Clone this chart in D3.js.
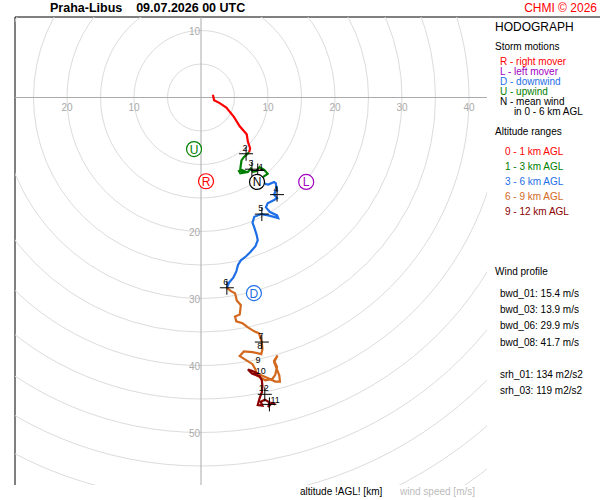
<!DOCTYPE html><html><head><meta charset="utf-8">
<script src="https://cdn.jsdelivr.net/npm/d3@7"></script>
<style>body{margin:0;background:#fff}svg text{font-family:"Liberation Sans",Arial,sans-serif}</style></head><body>
<svg id="c" width="600" height="500"></svg>
<script>
// wind components in m/s: u east(+), v north(+)
const seg01=[[1.78,0.4],[1.95,-0.4],[2.73,-0.8],[3.78,-1.5],[4.91,-2.9],[5.78,-4.3],[6.82,-5.5],[7.0,-6.6],[7.34,-7.6],[7.17,-8.2]];
const seg13=[[7.17,-8.2],[6.39,-8.9],[6.04,-9.4],[5.86,-10.7],[6.30,-10.9],[5.69,-11.0],[5.86,-11.3],[7.0,-11.1],[7.43,-10.6],[7.78,-11.1],[8.21,-11.0],[8.74,-10.4],[9.43,-10.8],[9.95,-11.4],[9.08,-12.0],[9.52,-12.9]];
const seg36=[[9.52,-12.9],[10.04,-13.0],[10.91,-12.6],[11.17,-12.8],[11.26,-13.6],[10.91,-14.5],[11.35,-15.0],[10.91,-15.3],[9.95,-15.8],[9.69,-16.4],[10.3,-17.1],[11.35,-17.6],[11.52,-18.0],[10.04,-17.6],[8.99,-17.4],[7.95,-17.8],[7.69,-18.7],[7.95,-19.4],[8.3,-20.5],[8.47,-21.3],[8.13,-22.2],[7.34,-23.1],[6.73,-23.7],[5.95,-24.3],[5.52,-25.0],[5.26,-26.0],[4.82,-26.9],[4.21,-27.6],[3.86,-28.4]];
const seg69=[[3.86,-28.4],[4.47,-28.9],[5.08,-29.2],[5.34,-30.3],[5.95,-31.0],[5.78,-32.4],[5.08,-32.7],[5.26,-33.4],[6.21,-33.7],[7.0,-34.3],[7.95,-34.9],[8.65,-35.2],[9.08,-36.5],[9.17,-37.6],[8.99,-38.3],[7.69,-38.0],[6.39,-37.9],[5.78,-38.6],[6.73,-39.2],[7.69,-39.8],[8.13,-40.6],[8.3,-41.5],[9.08,-41.9],[9.61,-42.2],[10.65,-42.0],[11.08,-41.4],[11.35,-40.2],[10.91,-39.3],[11.43,-38.5],[10.91,-39.5],[11.69,-41.5],[11.78,-42.4],[11.08,-42.4],[10.04,-41.9],[9.08,-41.5],[8.47,-41.2]];
const seg912=[[8.47,-41.2],[7.6,-40.8],[7.0,-40.6],[7.6,-41.2],[8.74,-41.6],[9.08,-42.2],[9.17,-43.1],[9.08,-44.0],[8.74,-44.9],[8.47,-45.9],[9.17,-46.0],[8.91,-45.4],[9.52,-45.1],[10.21,-45.5],[10.04,-46.2],[10.56,-45.6],[11.08,-45.8]];
const segColors=["#ff0000","#008000","#1e6ee6","#d2691e","#8b0000"];
const kmLabels=["1","2","3","4","5","6","7","8","9","10","11","12"];
const kmPts=[[8.47,-10.9],[6.73,-8.4],[7.6,-10.7],[11.35,-14.5],[9.08,-17.4],[3.86,-28.4],[9.08,-36.5],[8.91,-38.0],[8.65,-40.0],[9.08,-41.7],[10.21,-45.8],[9.52,-44.3]];
const kmCross=[true,true,true,true,true,true,true,false,false,false,true,true];
const storm=[{l:"U",u:-1.04,v:-7.7,c:"#008000"},{l:"R",u:0.75,v:-12.5,c:"#ff0000"},{l:"N",u:8.36,v:-12.6,c:"#000000"},{l:"L",u:15.7,v:-12.6,c:"#a000c0"},{l:"D",u:7.9,v:-29.2,c:"#1e6ee6"}];
const xTicks=[-20,-10,10,20,30,40];
const yTicks=[10,-20,-30,-40,-50];
const rings=d3.range(5,90,5);
const legendStorm=[["R - right mover","#ff0000"],["L - left mover","#a000c0"],["D - downwind","#1e6ee6"],["U - upwind","#008000"],["N - mean wind","#000"],["     in 0 - 6 km AGL","#000"]];
const legendAlt=["0 - 1 km AGL","1 - 3 km AGL","3 - 6 km AGL","6 - 9 km AGL","9 - 12 km AGL"];
const profile=["bwd_01: 15.4 m/s","bwd_03: 13.9 m/s","bwd_06: 29.9 m/s","bwd_08: 41.7 m/s","","srh_01: 134 m2/s2","srh_03: 119 m2/s2"];

const svg=d3.select("#c");
const X=d3.scaleLinear().domain([0,10]).range([201,268]);
const Y=d3.scaleLinear().domain([0,10]).range([97.5,30.5]);
const L={x:15,y:17,w:472,h:468};
svg.append("text").attr("x",50).attr("y",12).attr("font-size",12.5).attr("font-weight","bold").text("Praha-Libus    09.07.2026 00 UTC").attr("xml:space","preserve");
svg.append("text").attr("x",597).attr("y",12).attr("text-anchor","end").attr("font-size",12).attr("fill","#ff0000").text("CHMI © 2026");
svg.append("defs").append("clipPath").attr("id","cp").append("rect").attr("x",L.x).attr("y",L.y).attr("width",L.w).attr("height",L.h);
svg.append("line").attr("x1",L.x).attr("x2",L.x).attr("y1",L.y).attr("y2",L.y+L.h).attr("stroke","#000");
svg.append("line").attr("x1",L.x).attr("x2",600).attr("y1",L.y).attr("y2",L.y).attr("stroke","#000");
const g=svg.append("g").attr("clip-path","url(#cp)");
rings.forEach(r=>g.append("circle").attr("cx",X(0)).attr("cy",Y(0)).attr("r",X(r)-X(0)).attr("fill","none").attr("stroke","#dcdcdc"));
g.append("line").attr("x1",L.x).attr("x2",L.x+L.w).attr("y1",Y(0)).attr("y2",Y(0)).attr("stroke","#aaa");
g.append("line").attr("x1",X(0)).attr("x2",X(0)).attr("y1",L.y).attr("y2",L.y+L.h).attr("stroke","#aaa");
xTicks.forEach(t=>g.append("text").attr("x",X(t)).attr("y",Y(0)+13).attr("text-anchor","middle").attr("font-size",10).attr("fill","#aaa").text(Math.abs(t)));
yTicks.forEach(t=>g.append("text").attr("x",X(0)-1).attr("y",Y(t)+4).attr("text-anchor","end").attr("font-size",10).attr("fill","#aaa").text(Math.abs(t)));
const line=d3.line().x(d=>X(d[0])).y(d=>Y(d[1]));
[seg01,seg13,seg36,seg69,seg912].forEach((s,i)=>g.append("path").attr("d",line(s)).attr("fill","none").attr("stroke",segColors[i]).attr("stroke-width",2.2));
kmPts.forEach((p,i)=>{const x=X(p[0]),y=Y(p[1]);
 if(kmCross[i]){g.append("path").attr("d",`M${x-7},${y}H${x+7}M${x},${y-7}V${y+7}`).attr("stroke","#000").attr("stroke-width",1);}
 const right=(i===10||i===0);
 g.append("text").attr("x",right?x+1:x-1).attr("y",right?y-1:y-3).attr("text-anchor",right?"start":"middle").attr("font-size",9).attr("fill","#000").text(kmLabels[i]);});
storm.forEach(s=>{const x=X(s.u),y=Y(s.v);
 g.append("circle").attr("cx",x).attr("cy",y).attr("r",7.5).attr("fill","#fff").attr("stroke",s.c).attr("stroke-width",1.2);
 g.append("text").attr("x",x).attr("y",y+4.5).attr("text-anchor","middle").attr("font-size",12).attr("fill",s.c).text(s.l);});
const T=(x,y,t,o={})=>svg.append("text").attr("x",x).attr("y",y).attr("font-size",o.s||10).attr("fill",o.c||"#000").attr("xml:space","preserve").text(t);
T(495,31,"HODOGRAPH",{s:12});
T(495,50,"Storm motions");
legendStorm.forEach((d,i)=>T(500,65+i*10,d[0],{c:d[1]}));
T(495,135,"Altitude ranges");
legendAlt.forEach((d,i)=>T(505,155+i*15,d,{c:segColors[i]}));
T(495,275,"Wind profile");
profile.forEach((d,i)=>T(500,297+i*16.2,d));
T(300,495,"altitude !AGL! [km]");
T(400,495,"wind speed [m/s]",{c:"#bbb"});
</script></body></html>
